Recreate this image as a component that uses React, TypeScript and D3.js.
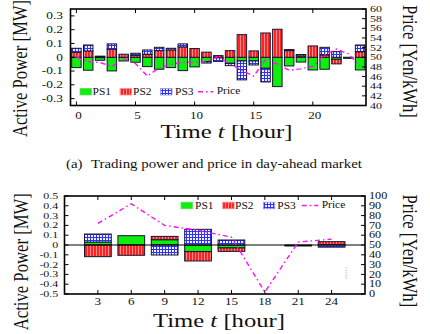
import React, { useEffect, useRef } from 'react'
import * as d3 from 'd3'

// day-ahead market (hourly)
const hoursDA = [0, 1, 2, 3, 4, 5, 6, 7, 8, 9, 10, 11, 12, 13, 14, 15, 16, 17, 18, 19, 20, 21, 22, 23, 24]
const ps1DA = [-0.075, -0.094, -0.022, -0.099, -0.027, -0.036, -0.068, -0.087, -0.075, -0.097, -0.07, -0.032, -0.004, -0.044, -0.027, -0.027, -0.08, -0.213, -0.063, -0.035, -0.092, -0.087, -0.015, -0.008, -0.092]
const ps2DA = [0.036, 0.046, 0.004, 0.058, 0.022, 0.014, 0.022, 0.048, 0.053, 0.075, 0.063, 0.037, 0.012, 0.048, 0.164, 0.046, 0.176, 0.203, 0.048, 0.01, 0.082, 0.017, -0.033, 0, 0.04]
const ps3DA = [0.029, 0.043, 0.004, 0.039, 0, 0.015, 0.031, 0.024, 0.012, 0.022, 0, -0.01, -0.026, -0.017, -0.137, -0.029, -0.099, 0, 0.008, 0.01, 0, 0.055, 0.041, 0, 0.049]
const priceDA = [50.0, 49.1, 48.9, 48.1, 49.7, 48.7, 46.1, 47.8, 48.5, 49.0, 49.0, 49.1, 50.1, 48.6, 47.3, 46.1, 49.5, 48.6, 47.3, 47.6, 48.1, 50.5, 51.7, 50.7, 48.2]
const powerTicksDA = [-0.3, -0.2, -0.1, 0, 0.1, 0.2, 0.3]
const priceTicksDA = [40, 42, 44, 46, 48, 50, 52, 54, 56, 58, 60]
const hourTicksDA = [0, 5, 10, 15, 20]

// real-time market (every 3 hours)
const hoursRT = [3, 6, 9, 12, 15, 18, 21, 24]
const ps1RT = [0.03, 0.095, 0.054, -0.068, -0.03, 0, -0.01, 0]
const ps2RT = [-0.119, -0.105, 0.034, -0.095, -0.035, 0, 0, 0.034]
const ps3RT = [0.082, 0, -0.102, 0.16, 0.051, 0, 0, -0.022]
const priceRT = [72, 92, 70, 65, 58, 2, 53, 56]
const strayRT = [[25.3, 16], [25.3, 28]]
const powerTicksRT = [-0.5, -0.4, -0.3, -0.2, -0.1, 0, 0.1, 0.2, 0.3, 0.4, 0.5]
const priceTicksRT = [0, 10, 20, 30, 40, 50, 60, 70, 80, 90, 100]
const hourTicksRT = [3, 6, 9, 12, 15, 18, 21, 24]

const seriesNames = ['PS1', 'PS2', 'PS3']
const fills = ['#10ee10', 'url(#ps2Pat)', 'url(#ps3Pat)']
const FONT = '"Liberation Serif", "Times New Roman", serif'
const SX = 1.25

function label(g: any, x: number, y: number, txt: string, size: number, anchor = 'start', sx = SX) {
  return g.append('text')
    .attr('transform', `translate(${x},${y}) scale(${sx},1)`)
    .attr('text-anchor', anchor)
    .attr('font-family', FONT)
    .attr('font-size', size)
    .attr('fill', '#111')
    .text(txt)
}

function drawPanel(root: any, c: any) {
  const x = d3.scaleLinear().domain(c.xDomain).range([c.left, c.right])
  const y = d3.scaleLinear().domain(c.yDomain).range([c.bottom, c.top])
  const p = d3.scaleLinear().domain(c.pDomain).range([c.bottom, c.top])
  const g = root.append('g')

  const rows = c.hours.map((h: number, i: number) => ({ hour: h, PS1: c.ps1[i], PS2: c.ps2[i], PS3: c.ps3[i] }))
  const layers = d3.stack<any>().keys(seriesNames).offset(d3.stackOffsetDiverging)(rows)
  const bw = x(c.barW) - x(0)
  layers.forEach((layer, k) => {
    g.append('g').selectAll('rect')
      .data(layer.filter((d: any) => d[0] !== d[1]))
      .join('rect')
      .attr('x', (d: any) => x(d.data.hour) - bw / 2)
      .attr('y', (d: any) => y(Math.max(d[0], d[1])))
      .attr('width', bw)
      .attr('height', (d: any) => Math.max(1, Math.abs(y(d[0]) - y(d[1]))))
      .attr('fill', fills[k])
      .attr('stroke', '#14142e')
      .attr('stroke-width', 1)
  })

  if (c.zeroLine) {
    g.append('line').attr('x1', c.left).attr('x2', c.right)
      .attr('y1', y(0)).attr('y2', y(0)).attr('stroke', '#000').attr('stroke-width', 1)
  }

  const line = d3.line<number>().x((_, i) => x(c.hours[i])).y(v => p(v))
  g.append('path').attr('d', line(c.price)).attr('fill', 'none')
    .attr('stroke', '#ff10ff').attr('stroke-width', 1.4).attr('stroke-dasharray', '5,3,1.5,3')
  if (c.stray) {
    g.append('path')
      .attr('d', d3.line<number[]>().x(d => x(d[0])).y(d => p(d[1]))(c.stray))
      .attr('fill', 'none').attr('stroke', '#ff60ff').attr('stroke-width', 1).attr('stroke-dasharray', '1,1.5')
  }

  // frame + ticks
  g.append('rect').attr('x', c.left).attr('y', c.top)
    .attr('width', c.right - c.left).attr('height', c.bottom - c.top)
    .attr('fill', 'none').attr('stroke', '#000').attr('stroke-width', 1.6)
  const tk = 4
  c.xTicks.forEach((v: number) => {
    g.append('line').attr('x1', x(v)).attr('x2', x(v)).attr('y1', c.bottom).attr('y2', c.bottom - tk).attr('stroke', '#000')
    g.append('line').attr('x1', x(v)).attr('x2', x(v)).attr('y1', c.top).attr('y2', c.top + tk).attr('stroke', '#000')
    label(g, x(v) + c.xLabelShift, c.xLabelY, String(v), 10.5, 'middle')
  })
  c.yTicks.forEach((v: number) => {
    g.append('line').attr('x1', c.left).attr('x2', c.left + tk).attr('y1', y(v)).attr('y2', y(v)).attr('stroke', '#000')
    label(g, c.left - c.yLabelGap, y(v) + c.yFont * 0.33, v === 0 ? '0' : v.toFixed(1), c.yFont, 'end', 1.3)
  })
  c.pTicks.forEach((v: number) => {
    g.append('line').attr('x1', c.right).attr('x2', c.right - tk).attr('y1', p(v)).attr('y2', p(v)).attr('stroke', '#000')
    label(g, c.right + 4, p(v) + c.pFont * 0.33, String(v), c.pFont, 'start', 1.3)
  })

  // legend
  const L = c.legend
  seriesNames.forEach((name, k) => {
    g.append('rect').attr('x', L.sw[k]).attr('y', L.y - 3.3).attr('width', 11.5).attr('height', 6.6)
      .attr('fill', fills[k]).attr('stroke', k === 0 ? '#60e060' : k === 1 ? '#ff9090' : '#9090ff').attr('stroke-width', 0.8)
    label(g, L.tx[k], L.y + 3.4, name, 10, 'start', 1.15)
  })
  g.append('line').attr('x1', L.line[0]).attr('x2', L.line[1]).attr('y1', L.y).attr('y2', L.y)
    .attr('stroke', '#ff10ff').attr('stroke-width', 1.4).attr('stroke-dasharray', '5,3,1.5,3')
  label(g, L.price, L.y + 2.2, 'Price', 10, 'start', 1.15)

  // axis titles
  root.append('text')
    .attr('transform', `translate(${c.yTitle[0]},${c.yTitle[1]}) scale(1.27,1) rotate(-90)`)
    .attr('text-anchor', 'middle').attr('dy', '0.35em')
    .attr('font-family', FONT).attr('font-size', 16.7).attr('fill', '#111')
    .text('Active Power [MW]')
  root.append('text')
    .attr('transform', `translate(${c.pTitle[0]},${c.pTitle[1]}) scale(1.27,1) rotate(90)`)
    .attr('text-anchor', 'middle').attr('dy', '0.35em')
    .attr('font-family', FONT).attr('font-size', 16.7).attr('fill', '#111')
    .text('Price [Yen/kWh]')
  const xt = root.append('text')
    .attr('transform', `translate(${c.xTitle[0]},${c.xTitle[1]}) scale(1.3,1)`)
    .attr('text-anchor', 'middle').attr('font-family', FONT).attr('font-size', 19).attr('fill', '#111')
  xt.append('tspan').text('Time ')
  xt.append('tspan').attr('font-style', 'italic').text('t')
  xt.append('tspan').text(' [hour]')
}

export default function App() {
  const ref = useRef<SVGSVGElement>(null)
  useEffect(() => {
    const svg = d3.select(ref.current)
    svg.selectAll('g.chart').remove()
    const root = svg.append('g').attr('class', 'chart')

    drawPanel(root, {
      left: 70.5, right: 366, top: 9, bottom: 105.5,
      xDomain: [-0.5, 24.5], yDomain: [-0.35, 0.35], pDomain: [40, 60],
      hours: hoursDA, ps1: ps1DA, ps2: ps2DA, ps3: ps3DA, price: priceDA,
      barW: 0.8, zeroLine: false,
      xTicks: hourTicksDA, yTicks: powerTicksDA, pTicks: priceTicksDA, pFont: 9.2, yFont: 10.3,
      xLabelY: 118.5, xLabelShift: 2, yLabelGap: 7.5,
      legend: { y: 91.7, sw: [80, 120, 160.5], tx: [92.5, 133, 175], line: [198, 213], price: 216.7 },
      yTitle: [20, 68.5], pTitle: [410.5, 61.5], xTitle: [226.5, 138.3],
    })

    const cap = root.append('text')
      .attr('transform', 'translate(214,168.3) scale(1.24,1)')
      .attr('text-anchor', 'middle').attr('font-family', FONT).attr('font-size', 12).attr('fill', '#111')
    cap.append('tspan').text('(a)')
    cap.append('tspan').attr('dx', 4).text(' Trading power and price in day-ahead market')

    drawPanel(root, {
      left: 64.5, right: 365, top: 196, bottom: 294,
      xDomain: [0, 27], yDomain: [-0.5, 0.5], pDomain: [0, 100],
      hours: hoursRT, ps1: ps1RT, ps2: ps2RT, ps3: ps3RT, price: priceRT, stray: strayRT,
      barW: 2.4, zeroLine: true,
      xTicks: hourTicksRT, yTicks: powerTicksRT, pTicks: priceTicksRT, pFont: 9.4, yFont: 9.2,
      xLabelY: 305, xLabelShift: 0, yLabelGap: 6.2,
      legend: { y: 205.5, sw: [181, 222.7, 263.3], tx: [195, 235, 277.3], line: [301.7, 318.3], price: 321.7 },
      yTitle: [21, 261.7], pTitle: [410, 250.8], xTitle: [219, 326.7],
    })
  }, [])

  return (
    <svg ref={ref} width={430} height={334} style={{ position: 'absolute', left: 0, top: 0, background: '#fff' }}>
      <defs>
        <pattern id="ps2Pat" patternUnits="userSpaceOnUse" width={3} height={3}>
          <rect width={3} height={3} fill="#ff2222" />
          <rect x={0} width={1} height={3} fill="#ff8c8c" />
        </pattern>
        <pattern id="ps3Pat" patternUnits="userSpaceOnUse" width={3} height={3}>
          <rect width={3} height={3} fill="#2f2fff" />
          <rect x={1} y={1} width={2} height={2} fill="#f2f2ff" />
        </pattern>
      </defs>
    </svg>
  )
}
